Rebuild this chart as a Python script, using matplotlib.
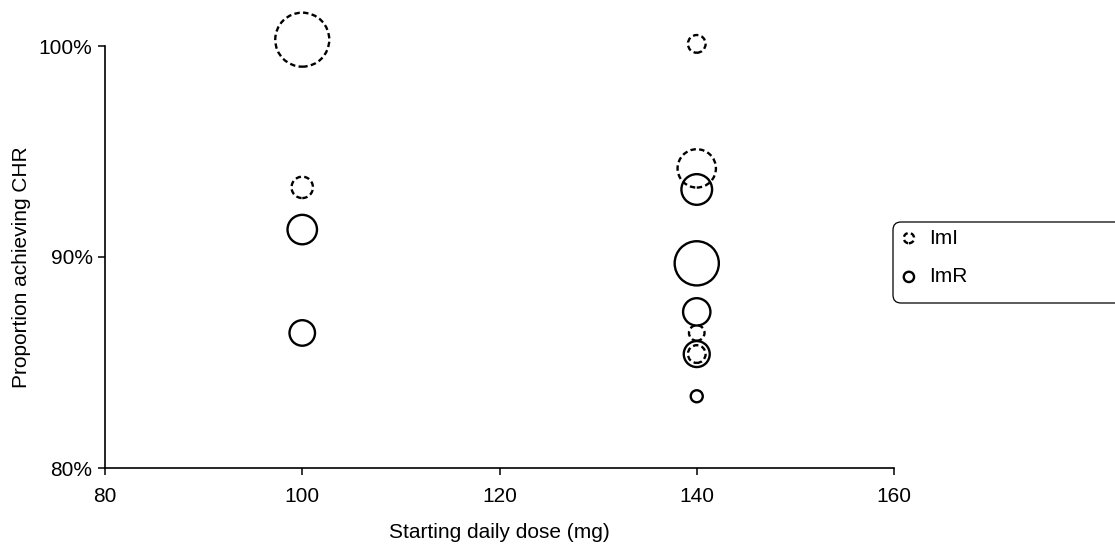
import matplotlib.pyplot as plt
from matplotlib.collections import PathCollection
from matplotlib.legend_handler import HandlerPathCollection
from matplotlib.patches import FancyBboxPatch
from matplotlib.ticker import PercentFormatter

plt.rcParams['font.family'] = ['Liberation Sans', 'DejaVu Sans']

# ImI (dashed circles)
imi_dose = [100, 100, 140, 140, 140, 140]
imi_pct = [100.3, 93.3, 100.1, 94.2, 86.4, 85.4]
imi_n = [121, 19, 13, 61, 10, 13]

# ImR (solid circles)
imr_dose = [100, 100, 140, 140, 140, 140, 140]
imr_pct = [91.3, 86.4, 93.2, 89.7, 87.4, 85.4, 83.4]
imr_n = [36, 27, 39, 81, 31, 28, 6]

x_ticks = [80, 100, 120, 140, 160]
y_ticks = [80, 90, 100]

FS = 15
SIZE_K = 12.5
LW = 1.7

fig = plt.figure(figsize=(11.15, 5.45), dpi=100)
ax = fig.add_axes([105 / 1115, 77 / 545, (894 - 105) / 1115, 468 / 545])

dashed = (0, (2.3, 1.4))
h_imi = ax.scatter(imi_dose, imi_pct, s=[SIZE_K * n for n in imi_n],
                   facecolors='none', edgecolors='black', linewidths=LW,
                   linestyles=[dashed], label='ImI', clip_on=False)
h_imr = ax.scatter(imr_dose, imr_pct, s=[SIZE_K * n for n in imr_n],
                   facecolors='none', edgecolors='black', linewidths=LW,
                   label='ImR', clip_on=False)

ax.set_xlim(80, 160)
ax.set_ylim(80, 100 + 46 / 21.1)
ax.set_xticks(x_ticks)
ax.set_yticks(y_ticks)
ax.yaxis.set_major_formatter(PercentFormatter(decimals=0))
ax.tick_params(labelsize=FS, length=5, width=1.1, direction='out')
ax.tick_params(axis='x', pad=9)
ax.tick_params(axis='y', pad=4)

for side in ['top', 'right']:
    ax.spines[side].set_visible(False)
for side in ['left', 'bottom']:
    ax.spines[side].set_linewidth(1.2)
ax.spines['left'].set_bounds(80, 100)
ax.spines['bottom'].set_bounds(80, 160)

fig.text(105 / 1115 + (894 - 105) / 1115 / 2, 1 - 532 / 545,
         'Starting daily dose (mg)', ha='center', va='center', fontsize=FS)
fig.text(22 / 1115, 1 - 267 / 545, 'Proportion achieving CHR',
         ha='center', va='center', rotation=90, fontsize=FS)

# legend frame runs past the right edge
box = FancyBboxPatch((8.93, 2.42), 3.0, 0.81,
                     boxstyle='round,pad=0,rounding_size=0.08',
                     transform=fig.dpi_scale_trans, facecolor='white',
                     edgecolor='black', linewidth=0.9)
fig.patches.append(box)

leg = fig.legend([h_imi, h_imr], ['ImI', 'ImR'],
                 handler_map={PathCollection: HandlerPathCollection(sizes=[55])},
                 loc='upper left', bbox_to_anchor=(886 / 1115, 1 - 214 / 545),
                 frameon=False, fontsize=FS, handlelength=0.8,
                 handletextpad=0.55, labelspacing=0.95, borderpad=0.2)

fig.savefig('out.png', dpi=100)
